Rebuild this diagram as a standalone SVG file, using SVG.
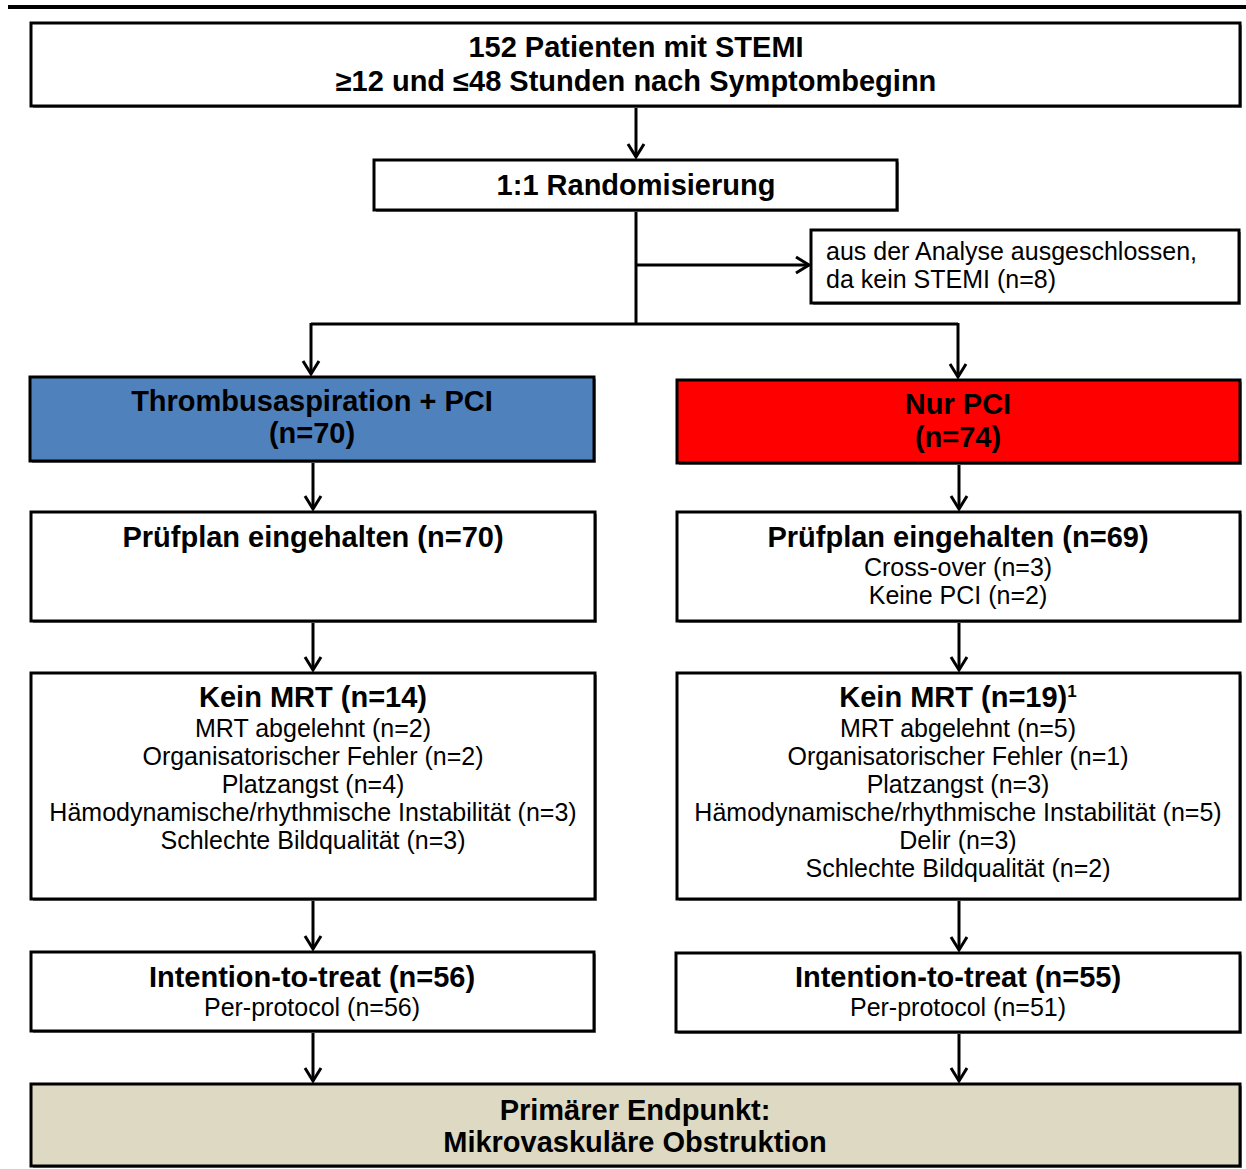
<svg xmlns="http://www.w3.org/2000/svg" width="1246" height="1169" viewBox="0 0 1246 1169">
<style>
.box{stroke:#000;stroke-width:3;fill:#fff}
.sh{fill:#8c8c8c}
.b{font-family:"Liberation Sans",Arial,sans-serif;font-weight:bold;font-size:29px;text-anchor:middle;fill:#000}
.n{font-family:"Liberation Sans",Arial,sans-serif;font-size:25px;text-anchor:middle;fill:#000}
.l{text-anchor:start}
.c{stroke:#000;stroke-width:3;fill:none}
</style>
<defs>
<marker id="ah" markerUnits="userSpaceOnUse" viewBox="-14 -10 16 20" refX="0" refY="0" markerWidth="16" markerHeight="20" orient="auto" overflow="visible">
<path d="M-13,-8 L0,0 L-13,8" fill="none" stroke="#000" stroke-width="3"/>
</marker>
</defs>
<rect width="1246" height="1169" fill="#fff"/>
<rect x="8" y="5" width="1238" height="4" fill="#000"/>

<g id="connectors">
<path class="c" d="M636,106 V157" marker-end="url(#ah)"/>
<path class="c" d="M636,210 V324"/>
<path class="c" d="M636,265 H809" marker-end="url(#ah)"/>
<path class="c" d="M311,324 H958"/>
<path class="c" d="M311,323 V374" marker-end="url(#ah)"/>
<path class="c" d="M958,323 V377" marker-end="url(#ah)"/>
<path class="c" d="M313,461 V509" marker-end="url(#ah)"/>
<path class="c" d="M959,463 V509" marker-end="url(#ah)"/>
<path class="c" d="M313,621 V670" marker-end="url(#ah)"/>
<path class="c" d="M959,621 V670" marker-end="url(#ah)"/>
<path class="c" d="M313,899 V949" marker-end="url(#ah)"/>
<path class="c" d="M959,899 V950" marker-end="url(#ah)"/>
<path class="c" d="M313,1031 V1081" marker-end="url(#ah)"/>
<path class="c" d="M959,1032 V1081" marker-end="url(#ah)"/>
</g>

<g id="patients">
<rect class="sh" x="33" y="25" width="1209" height="83"/>
<rect class="box" x="31" y="23" width="1209" height="83"/>
<text class="b" x="636" y="57">152 Patienten mit STEMI</text>
<text class="b" x="636" y="91">≥12 und ≤48 Stunden nach Symptombeginn</text>
</g>

<g id="random">
<rect class="sh" x="376" y="162" width="523" height="50"/>
<rect class="box" x="374" y="160" width="523" height="50"/>
<text class="b" x="636" y="195">1:1 Randomisierung</text>
</g>

<g id="excluded">
<rect class="sh" x="813" y="232" width="428" height="73"/>
<rect class="box" x="811" y="230" width="428" height="73"/>
<text class="n l" x="826" y="260">aus der Analyse ausgeschlossen,</text>
<text class="n l" x="826" y="288">da kein STEMI (n=8)</text>
</g>

<g id="arm-ta">
<rect class="sh" x="32" y="379" width="564" height="84"/>
<rect class="box" x="30" y="377" width="564" height="84" style="fill:#4f81bd"/>
<text class="b" x="312" y="411">Thrombusaspiration + PCI</text>
<text class="b" x="312" y="443">(n=70)</text>
</g>

<g id="arm-pci">
<rect class="sh" x="679" y="382" width="563" height="83"/>
<rect class="box" x="677" y="380" width="563" height="83" style="fill:#ff0000"/>
<text class="b" x="958" y="414">Nur PCI</text>
<text class="b" x="958" y="447">(n=74)</text>
</g>

<g id="protocol-ta">
<rect class="sh" x="33" y="514" width="564" height="109"/>
<rect class="box" x="31" y="512" width="564" height="109"/>
<text class="b" x="313" y="547">Prüfplan eingehalten (n=70)</text>
</g>

<g id="protocol-pci">
<rect class="sh" x="679" y="514" width="563" height="109"/>
<rect class="box" x="677" y="512" width="563" height="109"/>
<text class="b" x="958" y="547">Prüfplan eingehalten (n=69)</text>
<text class="n" x="958" y="576">Cross-over (n=3)</text>
<text class="n" x="958" y="604">Keine PCI (n=2)</text>
</g>

<g id="nomri-ta">
<rect class="sh" x="33" y="675" width="564" height="226"/>
<rect class="box" x="31" y="673" width="564" height="226"/>
<text class="b" x="313" y="707">Kein MRT (n=14)</text>
<text class="n" x="313" y="737">MRT abgelehnt (n=2)</text>
<text class="n" x="313" y="765">Organisatorischer Fehler (n=2)</text>
<text class="n" x="313" y="793">Platzangst (n=4)</text>
<text class="n" x="313" y="821">Hämodynamische/rhythmische Instabilität (n=3)</text>
<text class="n" x="313" y="849">Schlechte Bildqualität (n=3)</text>
</g>

<g id="nomri-pci">
<rect class="sh" x="679" y="675" width="563" height="226"/>
<rect class="box" x="677" y="673" width="563" height="226"/>
<text class="b" x="958" y="707">Kein MRT (n=19)<tspan font-size="17" dy="-10">1</tspan></text>
<text class="n" x="958" y="737">MRT abgelehnt (n=5)</text>
<text class="n" x="958" y="765">Organisatorischer Fehler (n=1)</text>
<text class="n" x="958" y="793">Platzangst (n=3)</text>
<text class="n" x="958" y="821">Hämodynamische/rhythmische Instabilität (n=5)</text>
<text class="n" x="958" y="849">Delir (n=3)</text>
<text class="n" x="958" y="877">Schlechte Bildqualität (n=2)</text>
</g>

<g id="itt-ta">
<rect class="sh" x="33" y="954" width="563" height="79"/>
<rect class="box" x="31" y="952" width="563" height="79"/>
<text class="b" x="312" y="987">Intention-to-treat (n=56)</text>
<text class="n" x="312" y="1016">Per-protocol (n=56)</text>
</g>

<g id="itt-pci">
<rect class="sh" x="678" y="955" width="564" height="79"/>
<rect class="box" x="676" y="953" width="564" height="79"/>
<text class="b" x="958" y="987">Intention-to-treat (n=55)</text>
<text class="n" x="958" y="1016">Per-protocol (n=51)</text>
</g>

<g id="endpoint">
<rect class="sh" x="33" y="1086" width="1209" height="82"/>
<rect class="box" x="31" y="1084" width="1209" height="82" style="fill:#ddd9c3"/>
<text class="b" x="635" y="1120">Primärer Endpunkt:</text>
<text class="b" x="635" y="1152">Mikrovaskuläre Obstruktion</text>
</g>
</svg>
